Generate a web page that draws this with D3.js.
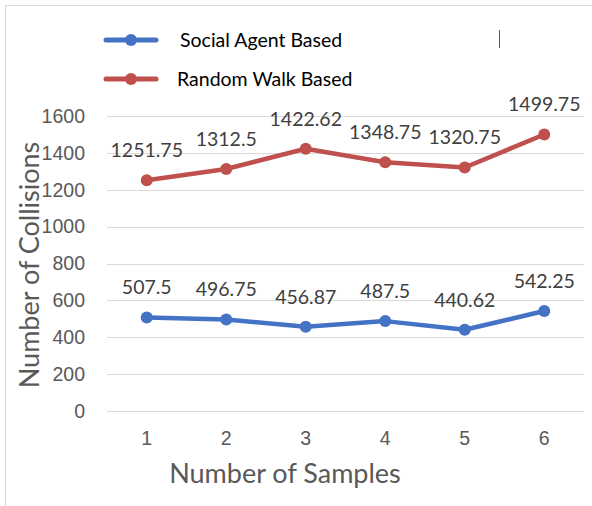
<!DOCTYPE html>
<html>
<head>
<meta charset="utf-8">
<script src="https://cdn.jsdelivr.net/npm/d3@7"></script>
<style>
  body { margin: 0; background: #fff; }
  svg { display: block; font-family: Lato, "Open Sans", sans-serif; }
</style>
</head>
<body>
<svg id="chart" width="592" height="506"></svg>
<script>
const samples = ["1", "2", "3", "4", "5", "6"]
const socialAgent = [507.5, 496.75, 456.87, 487.5, 440.62, 542.25]
const randomWalk = [1251.75, 1312.5, 1422.62, 1348.75, 1320.75, 1499.75]
const yTicks = [0, 200, 400, 600, 800, 1000, 1200, 1400, 1600]

const series = [
  { name: "Social Agent Based", values: socialAgent, color: "#4472C4" },
  { name: "Random Walk Based", values: randomWalk, color: "#C0504D" },
]

const svg = d3.select("#chart")

// outer frame
svg.append("rect")
  .attr("x", 5.5).attr("y", 5.5)
  .attr("width", 600).attr("height", 520)
  .attr("fill", "none")
  .attr("stroke", "#d9d9d9")

const x = d3.scaleBand().domain(samples).range([107, 584])
const y = d3.scaleLinear().domain([0, 1600]).range([411, 116])

// gridlines
svg.append("g")
  .selectAll("line")
  .data(yTicks)
  .enter()
  .append("line")
  .attr("x1", 107).attr("x2", 584)
  .attr("y1", (d) => Math.round(y(d)) + 0.5)
  .attr("y2", (d) => Math.round(y(d)) + 0.5)
  .attr("stroke", "#d9d9d9")
  .attr("stroke-width", 1)

// y axis
const yAxis = svg.append("g")
  .attr("transform", "translate(98,0)")
  .call(d3.axisLeft(y).tickValues(yTicks).tickFormat(d3.format("d")).tickSize(0).tickPadding(0))
yAxis.select(".domain").remove()
yAxis.selectAll("text")
  .attr("x", -13)
  .attr("fill", "#595959")
  .style("font-size", "19.5px")

// x axis
const xAxis = svg.append("g")
  .attr("transform", "translate(0,411)")
  .call(d3.axisBottom(x).tickSize(0).tickPadding(0))
xAxis.select(".domain").remove()
xAxis.selectAll("text")
  .attr("y", 20)
  .attr("fill", "#595959")
  .style("font-size", "19.5px")

// axis titles
svg.append("text")
  .attr("x", 285).attr("y", 483)
  .attr("text-anchor", "middle")
  .attr("fill", "#595959")
  .style("font-size", "27px")
  .text("Number of Samples")

svg.append("text")
  .attr("transform", "translate(39,265) rotate(-90)")
  .attr("text-anchor", "middle")
  .attr("fill", "#595959")
  .style("font-size", "27px")
  .text("Number of Collisions")

const line = d3.line()
  .x((d, i) => x(samples[i]) + x.bandwidth() / 2)
  .y((d) => y(d))

series.forEach((s) => {
  const g = svg.append("g")
  g.append("path")
    .datum(s.values)
    .attr("d", line)
    .attr("fill", "none")
    .attr("stroke", s.color)
    .attr("stroke-width", 4.5)
    .attr("stroke-linejoin", "round")
  g.selectAll("circle")
    .data(s.values)
    .enter()
    .append("circle")
    .attr("cx", (d, i) => x(samples[i]) + x.bandwidth() / 2)
    .attr("cy", (d) => y(d))
    .attr("r", 6)
    .attr("fill", s.color)
  g.selectAll("text")
    .data(s.values)
    .enter()
    .append("text")
    .attr("x", (d, i) => x(samples[i]) + x.bandwidth() / 2)
    .attr("y", (d) => y(d) - 23)
    .attr("text-anchor", "middle")
    .attr("fill", "#404040")
    .style("font-size", "19.5px")
    .text((d) => d)
})

// legend
const legend = svg.append("g")
series.forEach((s, i) => {
  const ly = 40 + i * 39
  legend.append("line")
    .attr("x1", 106).attr("x2", 156)
    .attr("y1", ly).attr("y2", ly)
    .attr("stroke", s.color)
    .attr("stroke-width", 5)
    .attr("stroke-linecap", "round")
  legend.append("circle")
    .attr("cx", 131).attr("cy", ly)
    .attr("r", 6)
    .attr("fill", s.color)
  legend.append("text")
    .attr("x", i === 0 ? 180 : 177)
    .attr("y", ly + 7)
    .attr("fill", "#000")
    .style("font-size", "19.5px")
    .text(s.name)
})

// small stray mark in the original legend area
svg.append("line")
  .attr("x1", 499.5).attr("x2", 499.5)
  .attr("y1", 30).attr("y2", 48)
  .attr("stroke", "#595959")
  .attr("stroke-width", 1)
</script>
</body>
</html>
